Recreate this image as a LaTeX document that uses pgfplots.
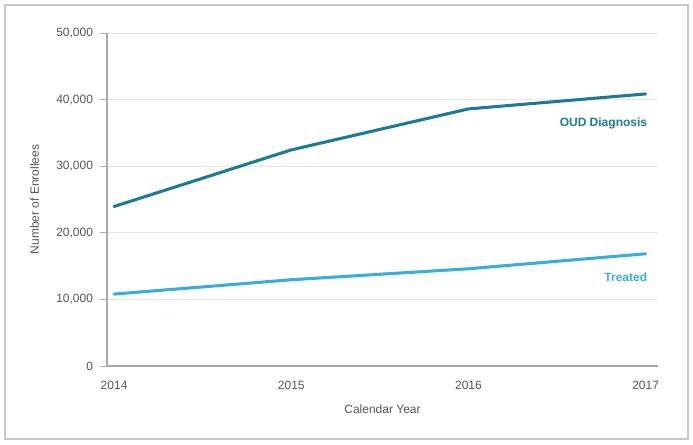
\documentclass[border=0pt]{standalone}
\usepackage{pgfplots}
\pgfplotsset{compat=1.18}
\usepackage{fontspec}
\setmainfont{Liberation Sans}
\definecolor{oud}{HTML}{1F7A96}
\definecolor{treated}{HTML}{3AAED8}
\definecolor{txt}{HTML}{555555}
\definecolor{axisgray}{HTML}{AAAAAA}
\definecolor{gridgray}{HTML}{E6E6E6}
\definecolor{framegray}{HTML}{C8C8C8}
\begin{document}
\begin{tikzpicture}[x=0.75pt,y=0.75pt]
\fill[white] (0,0) rectangle (693,444);
\draw[framegray, line width=2.2pt] (5,5) rectangle (688,439);
\begin{axis}[
  at={(107*0.75pt,78*0.75pt)}, anchor=south west,
  scale only axis, width=413.25pt, height=249.75pt,
  xmin=2013.96, xmax=2017.07, ymin=0, ymax=50000,
  scaled y ticks=false, scaled x ticks=false,
  axis x line*=bottom, axis y line*=left,
  axis line style={axisgray, line width=0.9pt, -},
  xtick={2014,2015,2016,2017},
  xticklabels={2014,2015,2016,2017},
  ytick={0,10000,20000,30000,40000,50000},
  yticklabels={0,{10,000},{20,000},{30,000},{40,000},{50,000}},
  ymajorgrids, grid style={gridgray, line width=0.6pt},
  major x tick style={draw=none},
  major y tick style={axisgray, line width=0.6pt},
  tick align=outside, major tick length=5pt,
  tick label style={font=\fontsize{9}{11}\selectfont, text=txt},
  xticklabel style={yshift=-3pt},
  yticklabel style={xshift=-2pt},
  xlabel={Calendar Year}, ylabel={Number of Enrollees},
  label style={font=\fontsize{9}{11}\selectfont, text=txt},
  xlabel style={yshift=-4pt},
  ylabel style={yshift=6pt},
  clip=false,
]
\addplot[oud, line width=2.3pt, line cap=round, line join=round] coordinates {
  (2014,23950) (2015,32450) (2016,38600) (2017,40850)};
\addplot[treated, line width=2.3pt, line cap=round, line join=round] coordinates {
  (2014,10800) (2015,12950) (2016,14600) (2017,16850)};
\node[anchor=east, font=\fontsize{9}{11}\selectfont\bfseries, text=oud, inner sep=0pt] at (axis cs:2017.01,36400) {OUD Diagnosis};
\node[anchor=east, font=\fontsize{9}{11}\selectfont\bfseries, text=treated, inner sep=0pt] at (axis cs:2017.01,13300) {Treated};
\end{axis}
\end{tikzpicture}
\end{document}
